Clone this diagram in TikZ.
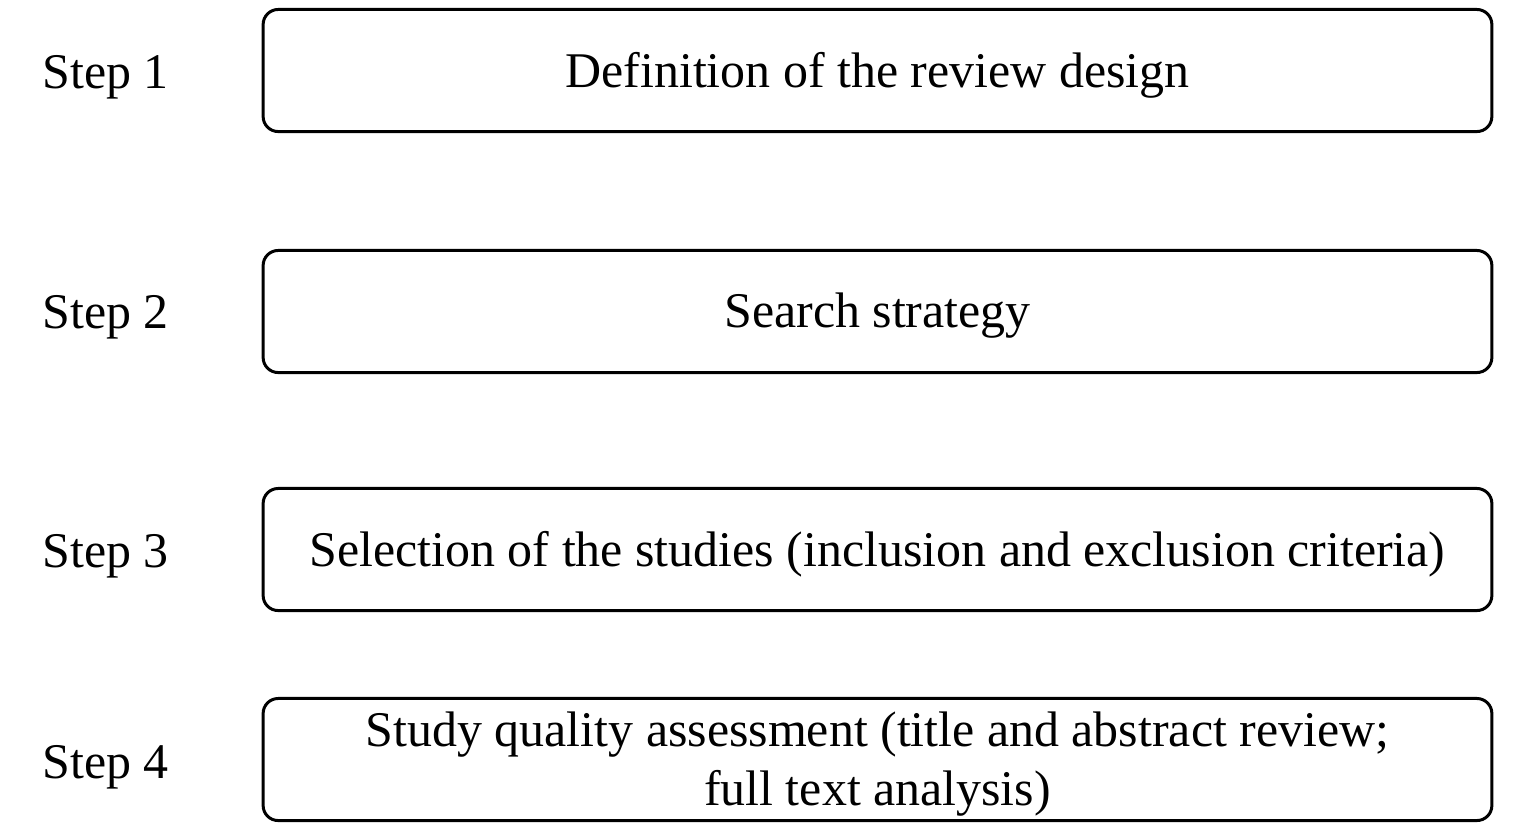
\documentclass[tikz,border=0pt]{standalone}
\usepackage{fontspec}
\setmainfont{Liberation Serif}

\begin{document}
\begin{tikzpicture}[x=0.01cm, y=-0.01cm,
    font=\fontsize{14.2}{17}\selectfont,
    stepbox/.style={draw, black, line width=0.85pt, rounded corners=0.15cm,
        minimum width=12.28cm, minimum height=1.22cm, inner sep=0pt},
    boxtext/.style={align=center, inner sep=0pt, yshift=-0.045cm},
    steplabel/.style={anchor=base west, inner sep=0pt}]
                \useasboundingbox (0,0) rectangle (1530,835);

                \node[steplabel] (label1) at (42, 88) {Step 1};
                \node[steplabel] (label2) at (42, 328) {Step 2};
                \node[steplabel] (label3) at (42, 567) {Step 3};
                \node[steplabel] (label4) at (42, 778) {Step 4};

                \node[stepbox] (design) at (877.5, 70.5) {};
                \node[stepbox] (search) at (877.5, 311.5) {};
                \node[stepbox] (selection) at (877.5, 549.5) {};
                \node[stepbox] (quality) at (877.5, 759.5) {};

                \node[boxtext] (designtext) at (design) {Definition of the review design};
                \node[boxtext] (searchtext) at (search) {Search strategy};
                \node[boxtext] (selectiontext) at (selection) {Selection of the studies (inclusion and exclusion criteria)};
                \node[boxtext] (qualitytext) at (quality) {Study quality assessment (title and abstract review;\\ full text analysis)};
            \end{tikzpicture}
\end{document}
